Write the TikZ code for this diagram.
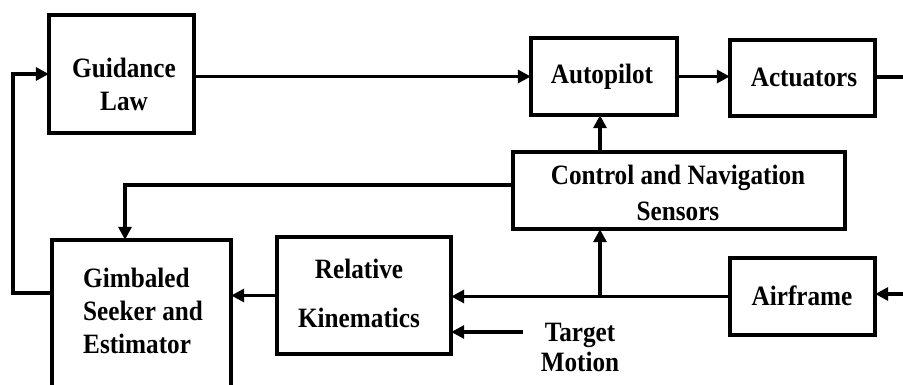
\documentclass[tikz,border=0pt]{standalone}
\usepackage{fontspec}
\setmainfont{Liberation Serif}[FakeStretch=0.9]
\usetikzlibrary{arrows.meta}
\begin{document}
\begin{tikzpicture}[x=1pt,y=-1pt,
  blk/.style={draw,line width=3.4pt,inner sep=0pt},
  lbl/.style={align=center,inner sep=0pt,font=\fontsize{28}{33}\selectfont\bfseries},
  conn/.style={line width=3.4pt},
  arr/.style={conn,-{Triangle[length=13pt,width=13pt]}}]
\useasboundingbox (0,0) rectangle (903,385);
% boxes
\draw[blk] (49,15) rectangle (194,133);
\node (guid) at (121.5,74) [minimum width=145pt,minimum height=118pt] {};
\draw[blk] (531,38) rectangle (677,115);
\node (auto) at (604,76.5) [minimum width=146pt,minimum height=77pt] {};
\draw[blk] (730,40) rectangle (875,116);
\node (act) at (802.5,78) [minimum width=145pt,minimum height=76pt] {};
\draw[blk] (513,152) rectangle (845,229);
\node (ctrl) at (679,190.5) [minimum width=332pt,minimum height=77pt] {};
\draw[blk] (730,258) rectangle (875,335);
\node (air) at (802.5,296.5) [minimum width=145pt,minimum height=77pt] {};
\draw[blk] (277,237) rectangle (451,354);
\node (rk) at (364,295.5) [minimum width=174pt,minimum height=117pt] {};
\draw[blk] (52,240) rectangle (231,395);
\node (gse) at (141.5,317.5) [minimum width=179pt,minimum height=155pt] {};
% labels
\node[lbl] (tguid) at (124,84) {Guidance\\Law};
\node[lbl] (tauto) at (602,77) {Autopilot};
\node[lbl] (tact) at (804,77) {Actuators};
\node[lbl,font=\fontsize{28}{36}\selectfont\bfseries] (tctrl) at (678,193) {Control and Navigation\\Sensors};
\node[lbl] (tair) at (802,296) {Airframe};
\node[lbl,font=\fontsize{28}{49}\selectfont\bfseries] (trk) at (359,293.5) {Relative\\Kinematics};
\node[lbl,align=left,anchor=west] (tgse) at (83,311) {Gimbaled\\Seeker and\\Estimator};
\node[lbl,font=\fontsize{28}{30}\selectfont\bfseries] (ttm) at (580,347) {Target\\Motion};
% connector anchors
\coordinate (outR) at (903,77);
\coordinate (inR) at (903,294);
\coordinate (j) at (600,296.5);
\coordinate (c1) at (125,185);
\coordinate (l1) at (13,293);
\coordinate (tm) at (523,332);
% connectors
\draw[arr] (auto.west -| guid.east) -- (auto.west);
\draw[arr] (auto.east) -- (auto.east -| act.west);
\draw[conn] (act.east |- outR) -- (outR);
\draw[arr] (inR) -- (inR -| air.east);
\draw[arr] (air.west) -- (air.west -| rk.east);
\draw[arr] (j) -- (j |- ctrl.south);
\draw[arr] (ctrl.north -| j) -- (auto.south -| j);
\draw[arr] (ctrl.west |- c1) -- (c1) -- (c1 |- gse.north);
\draw[arr] (rk.west) -- (rk.west -| gse.east);
\draw[arr] (l1 -| gse.west) -- (l1) |- (guid.west);
\draw[arr] (tm) -- (tm -| rk.east);
\end{tikzpicture}
\end{document}
